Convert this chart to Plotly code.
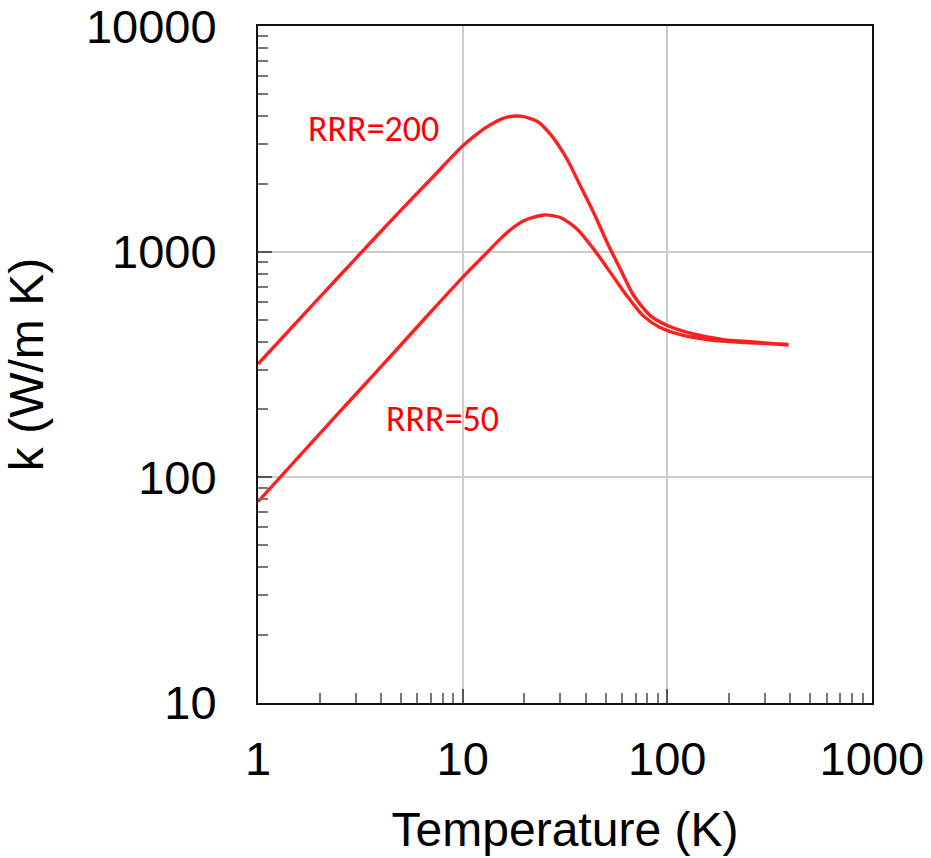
import plotly.graph_objects as go
import math

# Data
T_rrr200 = [1, 2, 3, 5, 7, 10, 12.7, 14.6, 16.5, 19.2, 23.1, 26.9, 32.4, 37.6,
            43.7, 50.8, 59, 68.5, 82.6, 100, 134, 188, 273, 391]
k_rrr200 = [318, 628, 933, 1530, 2100, 2940, 3500, 3780, 3950, 3990, 3790, 3310, 2570,
            1960, 1490, 1100, 837, 640, 521, 471, 432, 408, 397, 386]

T_rrr50 = [1, 2, 3, 5, 7, 10, 12.7, 16.5, 19.9, 25, 30, 36.3, 43.7, 52.7,
           63.3, 76.1, 91.6, 115, 156, 227, 391]
k_rrr50 = [78, 156, 233, 387, 542, 770, 960, 1217, 1372, 1456, 1418, 1259, 1027,
           810, 640, 521, 463, 430, 408, 397, 388]

x_ticks = [1, 10, 100, 1000]
x_tick_text = ["1", "10", "100", "1000"]
y_ticks = [10, 100, 1000, 10000]
y_tick_text = ["10", "100", "1000", "10000"]

labels = ["RRR=200", "RRR=50"]
label_T = [3.65, 8.0]
label_k = [3500, 181]

RED = "#ff1f1f"
FONT = "Liberation Sans, Arial, Helvetica, sans-serif"

def minor_vals(lo, hi):
    out = []
    d = lo
    while d < hi:
        for m in range(2, 10):
            out.append(m * d)
        d *= 10
    return out

fig = go.Figure()
fig.add_trace(go.Scatter(x=T_rrr200, y=k_rrr200, mode="lines",
                         line=dict(color=RED, width=3.4, shape="spline", smoothing=0.7),
                         showlegend=False))
fig.add_trace(go.Scatter(x=T_rrr50, y=k_rrr50, mode="lines",
                         line=dict(color=RED, width=3.4, shape="spline", smoothing=0.7),
                         showlegend=False))

for txt, tx, ky in zip(labels, label_T, label_k):
    fig.add_annotation(x=math.log10(tx), y=math.log10(ky), text=txt, showarrow=False,
                       font=dict(family="Carlito, Lato, sans-serif", size=36, color="#ff0000"),
                       xanchor="center", yanchor="middle")

axis_common = dict(
    type="log",
    showline=True, linecolor="#111", linewidth=2, mirror=True,
    ticks="inside", ticklen=14, tickwidth=2, tickcolor="#555",
    showgrid=True, gridcolor="#cccccc", gridwidth=2,
    zeroline=False,
    automargin=False,
    ticklabeloverflow="allow",
    tickfont=dict(family=FONT, size=47, color="black"),
)

fig.update_layout(
    width=931, height=858,
    margin=dict(l=258, r=59, t=26, b=155),
    paper_bgcolor="white", plot_bgcolor="white",
    xaxis=dict(axis_common, range=[0, 3.0005], tickvals=x_ticks, ticktext=x_tick_text,
               ticklabelstandoff=14,
               minor=dict(tickvals=minor_vals(1, 1000), ticks="inside", ticklen=10,
                          tickwidth=2, tickcolor="#777", showgrid=False),
               title=dict(text="Temperature (K)", font=dict(family=FONT, size=48, color="black"),
                          standoff=28)),
    yaxis=dict(axis_common, range=[1, 4.0005], tickvals=y_ticks, ticktext=y_tick_text,
               ticklabelstandoff=30,
               minor=dict(tickvals=minor_vals(10, 10000), ticks="inside", ticklen=10,
                          tickwidth=2, tickcolor="#777", showgrid=False),
               title=dict(text="k (W/m K)", font=dict(family=FONT, size=48, color="black"),
                          standoff=42)),
)

fig.write_html("out.html")
